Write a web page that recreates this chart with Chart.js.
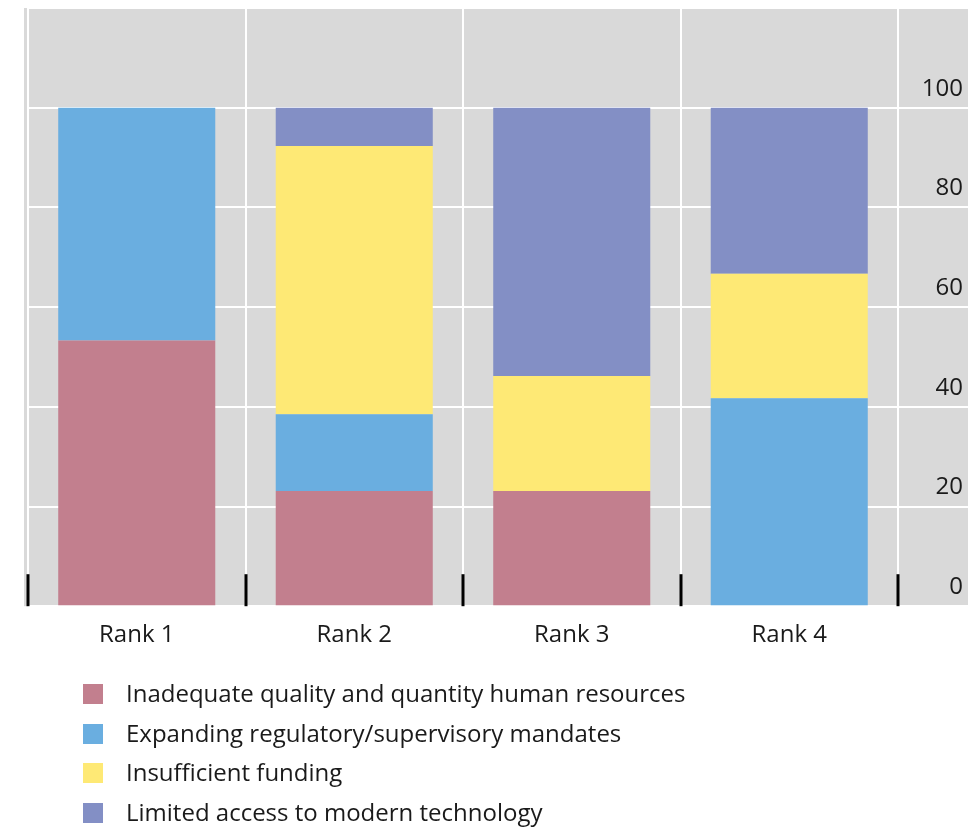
<!DOCTYPE html>
<html>
<head>
<meta charset="utf-8">
<script src="https://cdn.jsdelivr.net/npm/chart.js@4.4.1/dist/chart.umd.min.js"></script>
<style>
  html, body { margin: 0; padding: 0; background: #ffffff; }
  #wrap { width: 968px; height: 829px; }
</style>
</head>
<body>
<div id="wrap"><canvas id="chart"></canvas></div>
<script>
// Ranked constraints: share of respondents (%) per rank
const categories = ['Rank 1', 'Rank 2', 'Rank 3', 'Rank 4'];
const seriesNames = [
  'Inadequate quality and quantity human resources',
  'Expanding regulatory/supervisory mandates',
  'Insufficient funding',
  'Limited access to modern technology'
];
const humanResources   = [53.3, 23.1, 23.1, 0];
const expandingMandate = [46.7, 15.4, 0, 41.7];
const insufficientFund = [0, 53.8, 23.1, 25.0];
const limitedTech      = [0, 7.7, 53.8, 33.3];
const yTicks = [0, 20, 40, 60, 80, 100];

const seriesColors = ['#c27f8e', '#6aaee0', '#fee975', '#838fc5'];
const seriesValues = [humanResources, expandingMandate, insufficientFund, limitedTech];

const FONT = "'Open Sans', 'Noto Sans', sans-serif";
const TEXT = '#1a1a1a';
const PANEL = '#d9d9d9';

// grey panel behind the plot, running under the right-hand tick labels
const panelPlugin = {
  id: 'panel',
  beforeDraw(chart) {
    const { ctx, chartArea } = chart;
    ctx.save();
    ctx.fillStyle = PANEL;
    ctx.fillRect(chartArea.left - 4, chartArea.top, chart.width - chartArea.left + 4, chartArea.bottom - chartArea.top);
    ctx.restore();
  }
};

// short black marks at the category boundaries along the baseline
const boundaryTicks = {
  id: 'boundaryTicks',
  afterDatasetsDraw(chart) {
    const { ctx, chartArea } = chart;
    const xs = chart.scales.x;
    ctx.save();
    ctx.strokeStyle = '#000000';
    ctx.lineWidth = 3;
    for (let i = 0; i <= categories.length; i++) {
      const x = Math.round(xs.getPixelForValue(i - 0.5));
      ctx.beginPath();
      ctx.moveTo(x, chartArea.bottom - 32);
      ctx.lineTo(x, chartArea.bottom);
      ctx.stroke();
    }
    ctx.restore();
  }
};

// vertical legend under the axis labels
const stackedLegend = {
  id: 'stackedLegend',
  afterDraw(chart) {
    const { ctx } = chart;
    const boxX = 83, box = 20, textX = 126, firstRow = 694, rowGap = 39.7;
    ctx.save();
    ctx.font = '24px ' + FONT;
    ctx.textBaseline = 'middle';
    ctx.textAlign = 'left';
    chart.data.datasets.forEach((ds, i) => {
      const cy = firstRow + i * rowGap;
      ctx.fillStyle = ds.backgroundColor;
      ctx.fillRect(boxX, Math.round(cy - box / 2), box, box);
      ctx.fillStyle = TEXT;
      ctx.fillText(ds.label, textX, cy + 1);
    });
    ctx.restore();
  }
};

Chart.defaults.font.family = FONT;
Chart.defaults.color = TEXT;

new Chart(document.getElementById('chart'), {
  type: 'bar',
  data: {
    labels: categories,
    datasets: seriesNames.map((name, i) => ({
      label: name,
      data: seriesValues[i],
      backgroundColor: seriesColors[i],
      borderWidth: 0,
      categoryPercentage: 1.0,
      barPercentage: 0.722
    }))
  },
  options: {
    responsive: true,
    maintainAspectRatio: false,
    animation: false,
    layout: { padding: { left: 28, top: 8, right: 5, bottom: 164 } },
    plugins: {
      legend: { display: false },
      tooltip: { enabled: false }
    },
    scales: {
      x: {
        stacked: true,
        offset: true,
        grid: { offset: true, color: '#ffffff', lineWidth: 2, drawTicks: false },
        border: { display: false },
        ticks: { font: { size: 24 }, color: TEXT, padding: 15 }
      },
      y: {
        stacked: true,
        position: 'right',
        min: 0,
        max: 120,
        afterBuildTicks(scale) {
          scale.ticks = yTicks.concat([120]).map(v => ({ value: v }));
        },
        afterFit(scale) {
          scale.width = 65;
          scale.paddingTop = 0;
          scale.paddingBottom = 0;
        },
        grid: { color: '#ffffff', lineWidth: 2, drawTicks: true, tickLength: 70, tickColor: '#ffffff' },
        border: { display: false },
        ticks: {
          font: { size: 24 },
          color: TEXT,
          crossAlign: 'far',
          labelOffset: -19,
          callback: v => (yTicks.includes(v) ? String(v) : '')
        }
      }
    }
  },
  plugins: [panelPlugin, boundaryTicks, stackedLegend]
});
</script>
</body>
</html>
